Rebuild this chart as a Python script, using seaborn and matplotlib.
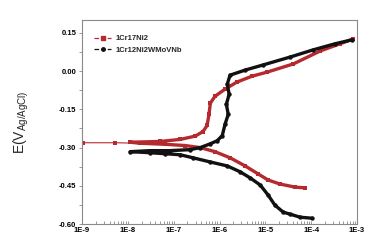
import numpy as np
import pandas as pd
import matplotlib
matplotlib.use("Agg")
import matplotlib.pyplot as plt
from matplotlib.lines import Line2D
import seaborn as sns

series_names = ["1Cr17Ni2", "1Cr12Ni2WMoVNb"]

# 1Cr17Ni2 (red): log10 current density and potential, cathodic -> Ecorr -> anodic
red_logi = [-4.13, -4.35, -4.68, -4.94, -5.16, -5.44, -5.77, -6.10, -6.42, -6.75, -7.19, -7.73,
            -7.95, -7.30, -6.86, -6.53, -6.36, -6.27, -6.23, -6.20, -6.10, -5.88, -5.62, -5.29, -4.96, -4.39,
            -3.80, -3.37, -3.08]
red_E = [-0.458, -0.455, -0.443, -0.427, -0.403, -0.372, -0.340, -0.316, -0.300, -0.292, -0.287, -0.283,
         -0.279, -0.276, -0.268, -0.255, -0.237, -0.213, -0.170, -0.126, -0.099, -0.071, -0.043, -0.020, -0.004, 0.028,
         0.079, 0.107, 0.126]
# thin spike of the red curve at Ecorr
red_tail_logi = [-7.73, -8.28, -8.98]
red_tail_E = [-0.283, -0.281, -0.281]

# 1Cr12Ni2WMoVNb (black)
blk_logi = [-3.98, -4.24, -4.46, -4.61, -4.79, -4.94, -5.11, -5.33, -5.55, -5.83, -6.21, -6.58, -6.86, -7.19, -7.52, -7.95,
            -7.52, -7.08, -6.64, -6.42, -6.20, -6.05, -5.94, -5.88, -5.81, -5.85, -5.79, -5.83, -5.77, -5.44, -5.05,
            -4.46, -3.96, -3.48, -3.10]
blk_E = [-0.577, -0.573, -0.561, -0.553, -0.526, -0.486, -0.447, -0.419, -0.395, -0.372, -0.356, -0.340, -0.328, -0.324,
         -0.320, -0.316,
         -0.312, -0.312, -0.308, -0.300, -0.285, -0.273, -0.253, -0.209, -0.170, -0.130, -0.091, -0.051, -0.016, 0.004,
         0.024, 0.055, 0.083, 0.107, 0.123]

x_tick_labels = ["1E-9", "1E-8", "1E-7", "1E-6", "1E-5", "1E-4", "1E-3"]
y_ticks = [-0.60, -0.45, -0.30, -0.15, 0.00, 0.15]
y_tick_labels = ["-0.60", "-0.45", "-0.30", "-0.15", "0.00", "0.15"]

colors = {"1Cr17Ni2": "#b52a2e", "1Cr12Ni2WMoVNb": "#111111"}
markers = {"1Cr17Ni2": "s", "1Cr12Ni2WMoVNb": "o"}

df = pd.concat([
    pd.DataFrame({"i": 10.0 ** np.array(red_logi), "E": red_E, "alloy": series_names[0]}),
    pd.DataFrame({"i": 10.0 ** np.array(blk_logi), "E": blk_E, "alloy": series_names[1]}),
])
tail = pd.DataFrame({"i": 10.0 ** np.array(red_tail_logi), "E": red_tail_E})

sns.set_style("ticks")
plt.rcParams["font.family"] = ["Liberation Sans", "DejaVu Sans"]

fig = plt.figure(figsize=(3.73, 2.42), dpi=100)
ax = fig.add_axes([0.22, 0.074, 0.737, 0.843])

sns.lineplot(data=tail, x="i", y="E", sort=False, estimator=None, ax=ax,
             color=colors[series_names[0]], lw=0.8, marker="s", markersize=2.6, markeredgewidth=0, legend=False)
for name in series_names:
    sub = df[df.alloy == name]
    sns.lineplot(data=sub, x="i", y="E", sort=False, estimator=None, ax=ax,
                 color=colors[name], lw=2.4, marker=markers[name], markersize=3.2,
                 markeredgewidth=0, legend=False)

ax.set_xscale("log")
ax.set_xlim(1e-9, 1e-3)
ax.set_ylim(-0.60, 0.20)
ax.set_xticks([10.0 ** k for k in range(-9, -2)])
ax.set_xticklabels(x_tick_labels)
ax.set_yticks(y_ticks)
ax.set_yticklabels(y_tick_labels)
ax.set_yticks([-0.525, -0.375, -0.225, -0.075, 0.075], minor=True)
ax.tick_params(axis="x", which="both", direction="in", labelsize=5.5, length=2, width=0.6, colors="#888888",
               labelcolor="black", pad=2)
ax.tick_params(axis="y", which="both", direction="out", labelsize=5.5, length=2, width=0.6, colors="#888888",
               labelcolor="black", pad=2)
for lab in ax.get_xticklabels() + ax.get_yticklabels():
    lab.set_fontweight("bold")
for s in ax.spines.values():
    s.set_color("#8a8a8a")
    s.set_linewidth(0.8)

ax.set_xlabel("")
ax.set_ylabel(r"E(V$_{\mathregular{Ag/AgCl)}}$", fontsize=10, labelpad=20)

handles = [Line2D([0], [0], color=colors[n], lw=0.9, ls="--", marker=markers[n], markersize=2.5) for n in series_names]
leg = ax.legend(handles, series_names, loc="upper left", bbox_to_anchor=(0.02, 0.96), frameon=False,
                prop={"size": 5.5, "weight": "bold"}, handlelength=2.2, handletextpad=0.5, labelspacing=0.5)

fig.savefig("out.png", dpi=100)
